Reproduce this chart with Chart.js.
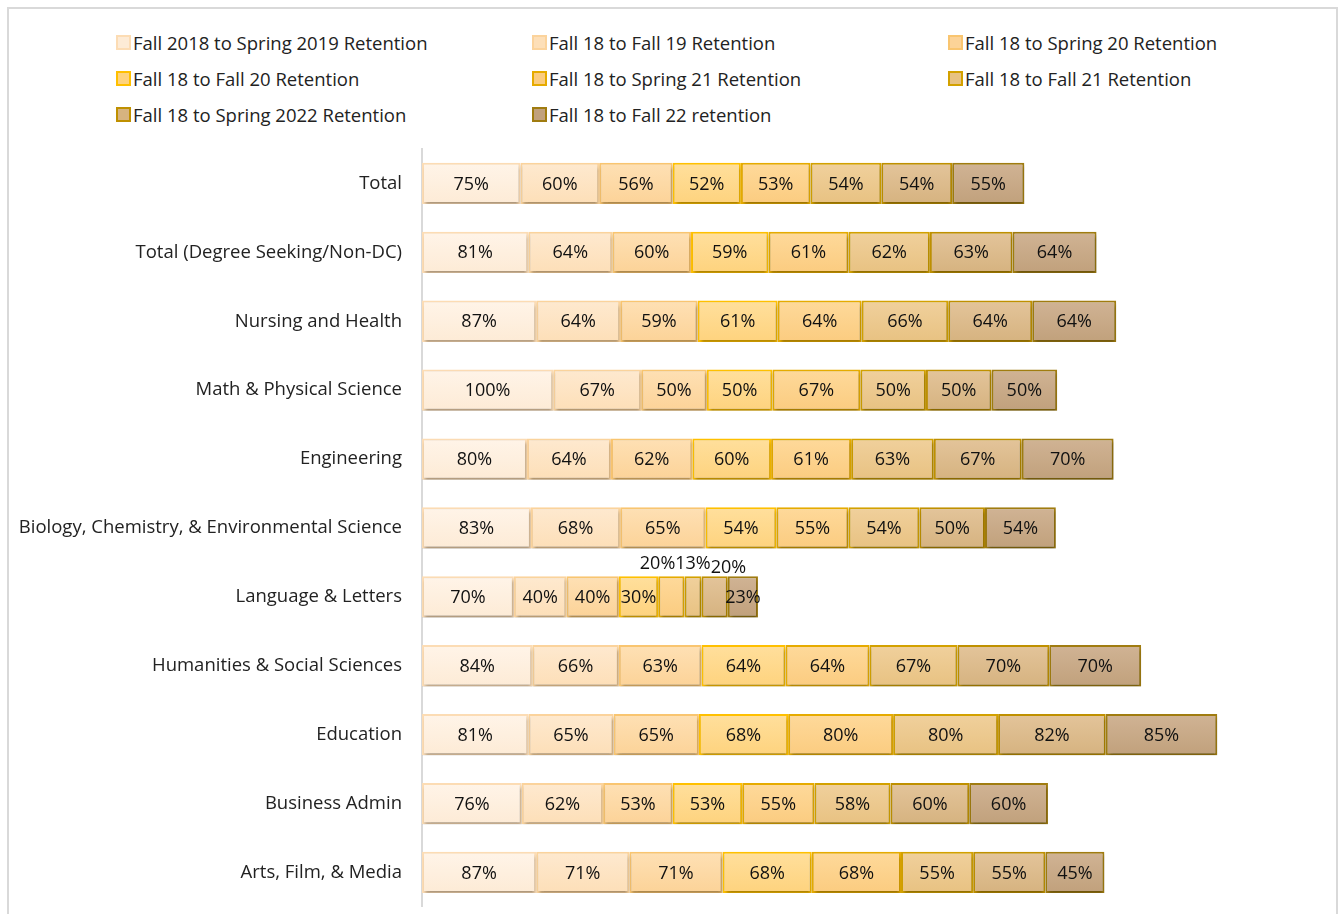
<!DOCTYPE html>
<html>
<head>
<meta charset="utf-8">
<script src="https://cdn.jsdelivr.net/npm/chart.js@4.4.1/dist/chart.umd.min.js"></script>
<style>
  body { margin: 0; background: #fff; font-family: "Open Sans", sans-serif; }
  #wrap { position: relative; width: 1340px; height: 914px; overflow: hidden; }
  #frame { position: absolute; left: 7px; top: 7px; width: 1331px; height: 920px; border: 2px solid #d9d9d9; box-sizing: border-box; }
  #legend { position: absolute; left: 116px; top: 30px; display: grid; grid-template-columns: 416px 416px 416px; row-gap: 12px; }
  .item { display: flex; align-items: center; height: 24px; font-size: 18.5px; color: #222; white-space: nowrap; }
  .box { width: 11px; height: 11px; border: 2px solid; margin-right: 2px; }
  canvas { position: absolute; left: 0; top: 0; }
</style>
</head>
<body>
<div id="wrap">
  <div id="frame"></div>
  <div id="legend"></div>
  <canvas id="graph-area" width="1340" height="938"></canvas>
</div>
<script>
// カテゴリ
var categories = ["Total", "Total (Degree Seeking/Non-DC)", "Nursing and Health", "Math & Physical Science",
  "Engineering", "Biology, Chemistry, & Environmental Science", "Language & Letters",
  "Humanities & Social Sciences", "Education", "Business Admin", "Arts, Film, & Media"];

// 系列名
var seriesNames = ["Fall 2018 to Spring 2019 Retention", "Fall 18 to Fall 19 Retention",
  "Fall 18 to Spring 20 Retention", "Fall 18 to Fall 20 Retention", "Fall 18 to Spring 21 Retention",
  "Fall 18 to Fall 21 Retention", "Fall 18 to Spring 2022 Retention", "Fall 18 to Fall 22 retention"];

// 各系列の値 (%)
var fall18Spring19 = [75, 81, 87, 100, 80, 83, 70, 84, 81, 76, 87];
var fall18Fall19   = [60, 64, 64, 67, 64, 68, 40, 66, 65, 62, 71];
var fall18Spring20 = [56, 60, 59, 50, 62, 65, 40, 63, 65, 53, 71];
var fall18Fall20   = [52, 59, 61, 50, 60, 54, 30, 64, 68, 53, 68];
var fall18Spring21 = [53, 61, 64, 67, 61, 55, 20, 64, 80, 55, 68];
var fall18Fall21   = [54, 62, 66, 50, 63, 54, 13, 67, 80, 58, 55];
var fall18Spring22 = [54, 63, 64, 50, 67, 50, 20, 70, 82, 60, 55];
var fall18Fall22   = [55, 64, 64, 50, 70, 54, 23, 70, 85, 60, 45];

var allSeries = [fall18Spring19, fall18Fall19, fall18Spring20, fall18Fall20,
  fall18Spring21, fall18Fall21, fall18Spring22, fall18Fall22];

// 色 (上, 下, 枠)
var fillTop = ["#fff4e8", "#fee9cf", "#fee0b4", "#ffdf9c", "#fed99a", "#f0d09c", "#e3c49a", "#d0b394"];
var fillBot = ["#fdebd6", "#fddfb8", "#fcd398", "#fed37e", "#fbcc80", "#e8c282", "#d6b380", "#c1a17c"];
var borders = ["#fcdcb4", "#fbd39c", "#f9c570", "#ffc000", "#e6ab00", "#d3a100", "#bf9000", "#a07c10"];

function gradFor(i) {
  return function (ctx) {
    var chart = ctx.chart;
    var y = chart.scales && chart.scales.y;
    if (!chart.chartArea || !y || ctx.dataIndex === undefined) return fillBot[i];
    var c = y.getPixelForValue(ctx.dataIndex);
    var g = chart.ctx.createLinearGradient(0, c - 20, 0, c + 20);
    g.addColorStop(0, fillTop[i]);
    g.addColorStop(1, fillBot[i]);
    return g;
  };
}

var datasets = allSeries.map(function (vals, i) {
  return {
    label: seriesNames[i],
    data: vals,
    backgroundColor: gradFor(i),
    borderColor: borders[i],
    borderWidth: 2,
    borderSkipped: false,
    categoryPercentage: 1,
    barPercentage: 0.6
  };
});

// HTML 凡例
var legend = document.getElementById("legend");
seriesNames.forEach(function (name, i) {
  var d = document.createElement("div");
  d.className = "item";
  d.innerHTML = '<span class="box" style="background:' + fillBot[i] + ';border-color:' + borders[i] + '"></span>' + name;
  legend.appendChild(d);
});

var FONT = "Open Sans";

// 影
var shadowPlugin = {
  id: "shadow",
  beforeDatasetsDraw: function (chart) {
    var c = chart.ctx;
    c.save();
    c.shadowColor = "rgba(0,0,0,0.3)";
    c.shadowOffsetY = 3;
    c.shadowOffsetX = 1;
    c.shadowBlur = 3;
  },
  afterDatasetsDraw: function (chart) {
    chart.ctx.restore();
  }
};

// データラベル
var labelPlugin = {
  id: "barLabels",
  afterDatasetsDraw: function (chart) {
    var c = chart.ctx;
    c.save();
    c.font = "18px '" + FONT + "'";
    c.fillStyle = "#111";
    c.textBaseline = "middle";
    c.textAlign = "center";
    var narrow = {};
    chart.data.datasets.forEach(function (ds, di) {
      var meta = chart.getDatasetMeta(di);
      meta.data.forEach(function (bar, idx) {
        var txt = ds.data[idx] + "%";
        var w = Math.abs(bar.x - bar.base);
        var cx = (bar.x + bar.base) / 2;
        if (w < 28) {
          (narrow[idx] = narrow[idx] || []).push({ txt: txt, cx: cx, top: bar.y - bar.height / 2 });
        } else {
          c.fillText(txt, cx, bar.y + 1);
        }
      });
    });
    Object.keys(narrow).forEach(function (k) {
      var items = narrow[k];
      var total = 0, mean = 0;
      items.forEach(function (it) { it.w = c.measureText(it.txt).width; total += it.w; mean += it.cx; });
      mean /= items.length;
      var x = mean - total / 2;
      c.textAlign = "left";
      items.forEach(function (it, j) {
        c.fillText(it.txt, x, it.top - 12 + (j === items.length - 1 ? 4 : 0));
        x += it.w;
      });
    });
    c.restore();
  }
};

var canvas = document.getElementById("graph-area");
var chart = new Chart(canvas, {
  type: "bar",
  data: { labels: categories, datasets: datasets },
  options: {
    indexAxis: "y",
    responsive: false,
    animation: false,
    layout: { padding: { left: 10, right: 65, top: 149, bottom: 7 } },
    plugins: {
      legend: { display: false },
      tooltip: { enabled: false }
    },
    scales: {
      x: { stacked: true, display: false, min: 0, max: 650 },
      y: {
        stacked: true,
        grid: { display: false, drawTicks: false },
        border: { display: true, color: "#d9d9d9", width: 2 },
        ticks: { color: "#222", font: { family: FONT, size: 18.5 }, padding: 20 },
        afterFit: function (scale) { scale.width = 412; }
      }
    }
  },
  plugins: [shadowPlugin, labelPlugin]
});
</script>
</body>
</html>
